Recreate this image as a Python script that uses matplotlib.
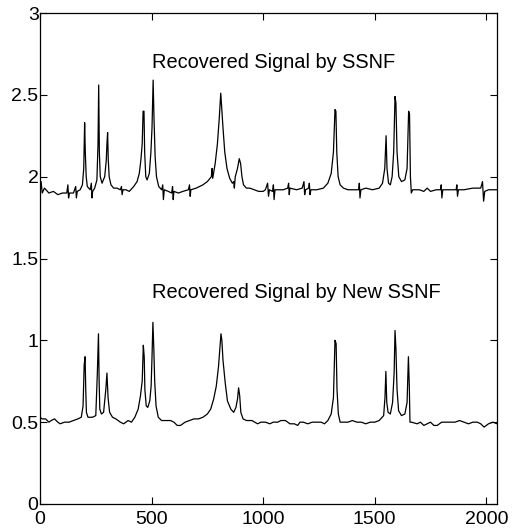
import matplotlib
matplotlib.use("Agg")
import matplotlib.pyplot as plt

plt.rcParams["font.family"] = ["Liberation Sans", "DejaVu Sans"]

# points: recovered signal by SSNF (upper trace)
ssnf_x = [0, 5, 10, 20, 40, 60, 80, 100, 120, 125, 128, 132, 150, 160, 163, 167,
          180, 190, 196, 200, 203, 207, 212, 225, 230, 233, 236, 245, 255, 260,
          263, 266, 270, 278, 290, 297, 300, 303, 306, 310, 318, 330, 345, 360,
          365, 368, 372, 385, 400, 420, 435, 445, 452, 458, 462, 466, 469, 474,
          480, 490, 497, 502, 507, 511, 516, 522, 532, 545, 550, 553, 557, 575,
          590, 594, 597, 600, 620, 640, 665, 670, 673, 676, 700, 730, 750, 768,
          771, 774, 785, 795, 803, 810, 815, 820, 828, 838, 850, 862, 868, 871,
          875, 885, 893, 899, 905, 912, 925, 940, 960, 980, 1000, 1010, 1020,
          1024, 1028, 1042, 1046, 1049, 1053, 1075, 1090, 1110, 1114, 1117, 1120,
          1150, 1175, 1183, 1186, 1190, 1204, 1207, 1210, 1214, 1240, 1270, 1290,
          1305, 1315, 1322, 1326, 1330, 1336, 1345, 1360, 1380, 1400, 1428, 1431,
          1434, 1438, 1460, 1490, 1520, 1535, 1545, 1551, 1555, 1562, 1570, 1578,
          1585, 1591, 1595, 1600, 1608, 1620, 1635, 1645, 1652, 1656, 1660, 1664,
          1670, 1700, 1720, 1735, 1750, 1775, 1795, 1798, 1801, 1805, 1830, 1865,
          1868, 1871, 1875, 1900, 1940, 1975, 1983, 1988, 1993, 2010, 2048]
ssnf_y = [1.90, 1.97, 1.90, 1.93, 1.90, 1.91, 1.89, 1.90, 1.90, 1.95, 1.87, 1.90,
          1.90, 1.94, 1.87, 1.91, 1.92, 1.95, 2.05, 2.33, 2.15, 2.00, 1.94, 1.92,
          1.96, 1.87, 1.91, 1.93, 1.98, 2.20, 2.56, 2.15, 2.00, 1.96, 2.00, 2.10,
          2.20, 2.27, 2.10, 2.00, 1.95, 1.93, 1.93, 1.92, 1.94, 1.89, 1.92, 1.92,
          1.91, 1.94, 1.97, 2.02, 2.10, 2.20, 2.40, 2.40, 2.15, 2.00, 1.98, 2.02,
          2.15, 2.30, 2.59, 2.35, 2.12, 2.00, 1.94, 1.92, 1.95, 1.86, 1.92, 1.91,
          1.90, 1.94, 1.86, 1.91, 1.90, 1.91, 1.92, 1.95, 1.88, 1.92, 1.93, 1.95,
          1.97, 2.00, 2.05, 1.99, 2.08, 2.20, 2.35, 2.51, 2.40, 2.30, 2.15, 2.05,
          1.99, 1.96, 1.97, 1.93, 2.00, 2.05, 2.11, 2.08, 2.00, 1.95, 1.93, 1.93,
          1.92, 1.91, 1.91, 1.92, 1.96, 1.88, 1.92, 1.91, 1.95, 1.86, 1.92, 1.92,
          1.92, 1.93, 1.96, 1.89, 1.93, 1.92, 1.93, 1.97, 1.89, 1.92, 1.93, 1.96,
          1.89, 1.92, 1.92, 1.93, 1.96, 2.02, 2.15, 2.41, 2.40, 2.15, 2.00, 1.95,
          1.93, 1.92, 1.92, 1.92, 1.96, 1.87, 1.92, 1.93, 1.92, 1.93, 1.96, 2.05,
          2.25, 2.05, 1.96, 1.95, 2.00, 2.15, 2.49, 2.45, 2.15, 2.00, 1.97, 1.98,
          2.05, 2.40, 2.38, 2.00, 1.90, 1.92, 1.92, 1.91, 1.93, 1.91, 1.92, 1.92,
          1.95, 1.87, 1.92, 1.92, 1.92, 1.95, 1.88, 1.92, 1.92, 1.93, 1.93, 1.97,
          1.85, 1.91, 1.92, 1.92]

# recovered signal by new SSNF (lower trace)
new_x = [0, 10, 25, 40, 50, 65, 80, 90, 110, 130, 150, 170, 185, 193, 198, 202,
         205, 208, 215, 235, 250, 257, 262, 265, 268, 275, 285, 295, 300, 305,
         312, 325, 340, 360, 375, 385, 395, 410, 425, 440, 450, 458, 463, 467,
         470, 476, 483, 492, 498, 502, 506, 510, 514, 520, 530, 545, 565, 585,
         600, 615, 630, 650, 670, 690, 710, 730, 750, 765, 778, 790, 800, 807,
         811, 815, 820, 830, 840, 855, 868, 878, 885, 890, 895, 900, 910, 925,
         950, 975, 990, 1010, 1030, 1045, 1065, 1080, 1100, 1120, 1140, 1155,
         1165, 1180, 1200, 1220, 1240, 1260, 1275, 1290, 1305, 1315, 1322, 1327,
         1331, 1337, 1345, 1360, 1380, 1400, 1420, 1440, 1460, 1480, 1500, 1520,
         1540, 1546, 1550, 1554, 1560, 1570, 1580, 1587, 1591, 1595, 1600, 1607,
         1620, 1635, 1645, 1651, 1655, 1658, 1665, 1690, 1705, 1720, 1735, 1750,
         1765, 1780, 1800, 1830, 1860, 1880, 1900, 1920, 1940, 1960, 1975, 1990,
         2010, 2030, 2048]
new_y = [0.53, 0.52, 0.52, 0.50, 0.51, 0.52, 0.50, 0.49, 0.50, 0.50, 0.51, 0.52,
         0.53, 0.60, 0.85, 0.90, 0.70, 0.56, 0.53, 0.53, 0.54, 0.80, 1.04, 0.75,
         0.58, 0.55, 0.56, 0.70, 0.80, 0.65, 0.56, 0.53, 0.52, 0.50, 0.49, 0.50,
         0.51, 0.50, 0.53, 0.58, 0.66, 0.75, 0.97, 0.90, 0.70, 0.60, 0.59, 0.63,
         0.72, 0.90, 1.11, 0.95, 0.75, 0.60, 0.53, 0.51, 0.51, 0.51, 0.50, 0.48,
         0.48, 0.50, 0.51, 0.52, 0.52, 0.53, 0.55, 0.58, 0.64, 0.72, 0.84, 0.97,
         1.04, 1.00, 0.88, 0.74, 0.63, 0.58, 0.56, 0.59, 0.64, 0.71, 0.66, 0.56,
         0.52, 0.51, 0.51, 0.49, 0.50, 0.50, 0.49, 0.50, 0.50, 0.51, 0.51, 0.49,
         0.49, 0.48, 0.50, 0.50, 0.49, 0.50, 0.50, 0.50, 0.49, 0.51, 0.55, 0.65,
         1.00, 0.98, 0.70, 0.55, 0.50, 0.50, 0.50, 0.51, 0.50, 0.50, 0.49, 0.50,
         0.50, 0.51, 0.54, 0.65, 0.81, 0.62, 0.56, 0.55, 0.62, 0.80, 1.06, 0.95,
         0.70, 0.57, 0.54, 0.55, 0.62, 0.90, 0.72, 0.50, 0.50, 0.49, 0.50, 0.48,
         0.49, 0.50, 0.48, 0.48, 0.50, 0.50, 0.50, 0.51, 0.50, 0.49, 0.50, 0.50,
         0.49, 0.47, 0.49, 0.50, 0.49]

x_ticks = [0, 500, 1000, 1500, 2000]
y_ticks = [0, 0.5, 1, 1.5, 2, 2.5, 3]
y_tick_labels = ["0", "0.5", "1", "1.5", "2", "2.5", "3"]

fig = plt.figure(figsize=(5.17, 5.29), dpi=100)
ax = fig.add_axes([40 / 517, 1 - 504 / 529, 457 / 517, 491 / 529])

ax.plot(ssnf_x, ssnf_y, color="black", linewidth=0.9)
ax.plot(new_x, new_y, color="black", linewidth=0.9)

ax.text(500, 2.70, "Recovered Signal by SSNF", fontsize=14.4, va="center")
ax.text(500, 1.29, "Recovered Signal by New SSNF", fontsize=14.4, va="center")

ax.set_xlim(0, 2048)
ax.set_ylim(0, 3)
ax.set_xticks(x_ticks)
ax.set_yticks(y_ticks)
ax.set_yticklabels(y_tick_labels)
ax.tick_params(direction="in", top=True, right=True, length=5, width=0.8,
               labelsize=14)
ax.tick_params(axis="y", pad=1)
ax.tick_params(axis="x", pad=5)
for sp in ax.spines.values():
    sp.set_linewidth(0.9)

fig.savefig("out.png", dpi=100)
